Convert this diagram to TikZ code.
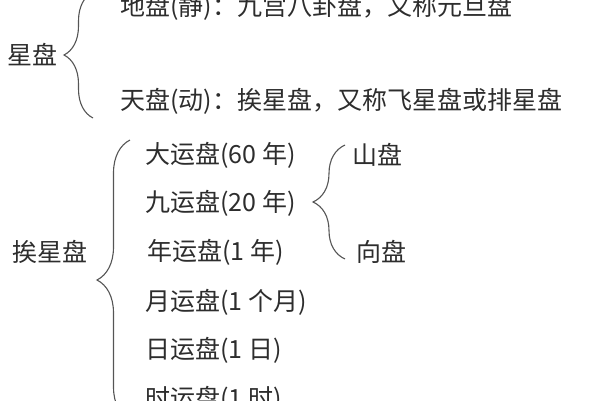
\documentclass[tikz,border=0pt]{standalone}
\usepackage{fontspec}
\setmainfont{Noto Sans CJK SC}
\usetikzlibrary{decorations.pathreplacing}
\definecolor{myText}{RGB}{45,45,45}
\definecolor{myLine}{RGB}{85,85,85}
\tikzset{%%
  panText/.style={anchor=west, inner sep=0pt, text=myText, font=\fontsize{25}{30}\selectfont},
  panBrace/.style={draw=myLine, line width=1.1pt, decorate, decoration={brace, amplitude=#1}}
  }

\begin{document}
\begin{tikzpicture}[x=1pt,y=-1pt]
  \useasboundingbox (0,0) rectangle (600,400);
  % 星盘
  \node[panText] (xingPan) at (7,55) {星盘};
  \node[panText] (diPan) at (120,7) {地盘(静)：九宫八卦盘，又称元旦盘};
  \node[panText] (tianPan) at (120,101) {天盘(动)：挨星盘，又称飞星盘或排星盘};
  \coordinate (xingTop) at (93,-8);
  \coordinate (xingBot) at (93,118);
  \draw[panBrace=29pt] (xingBot) -- (xingTop);
  % 挨星盘
  \node[panText] (aiXing) at (12,252) {挨星盘};
  \node[panText] (daYun) at (145,155) {大运盘(60 年)};
  \node[panText] (jiuYun) at (145,203) {九运盘(20 年)};
  \node[panText] (nianYun) at (147,252) {年运盘(1 年)};
  \node[panText] (yueYun) at (145,302) {月运盘(1 个月)};
  \node[panText] (riYun) at (145,350) {日运盘(1 日)};
  \node[panText] (shiYun) at (145,399) {时运盘(1 时)};
  \coordinate (aiTop) at (130,140);
  \coordinate (aiBot) at (130,420);
  \draw[panBrace=33pt] (aiBot) -- (aiTop);
  % 山盘 / 向盘
  \node[panText] (shanPan) at (352,155) {山盘};
  \node[panText] (xiangPan) at (356,252) {向盘};
  \coordinate (jiuTop) at (345,145);
  \coordinate (jiuBot) at (345,259);
  \draw[panBrace=32pt] (jiuBot) -- (jiuTop);
\end{tikzpicture}
\end{document}
